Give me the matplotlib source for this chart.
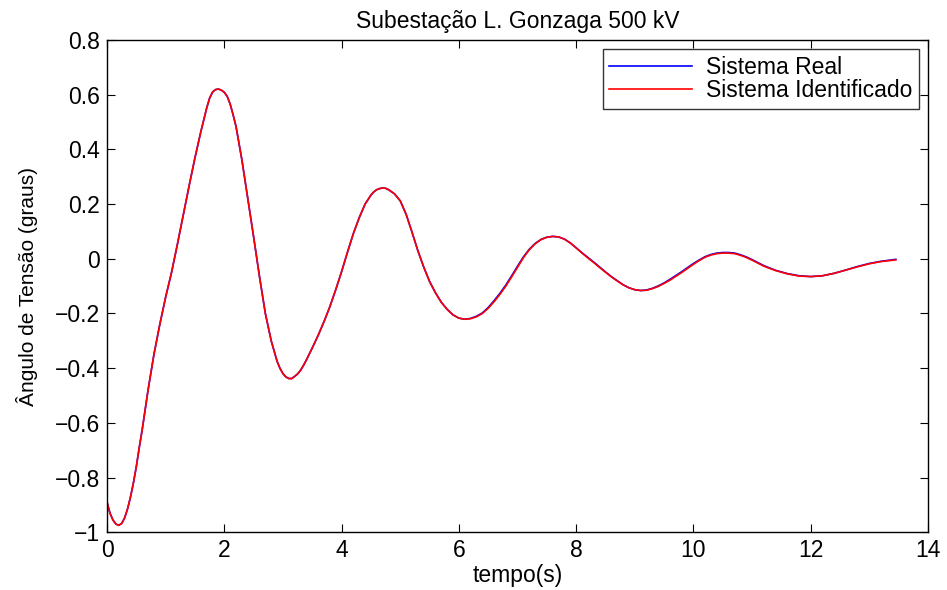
import matplotlib
matplotlib.use("Agg")
import matplotlib.pyplot as plt

plt.rcParams["font.family"] = ["Liberation Sans", "DejaVu Sans"]

# ── Data ──────────────────────────────────────────────────────────────────────
tempo = [
    0.0, 0.05, 0.1, 0.15, 0.2, 0.25, 0.3, 0.35, 0.4, 0.45,
    0.5, 0.55, 0.6, 0.7, 0.8, 0.9, 1.0, 1.1, 1.2, 1.3,
    1.4, 1.5, 1.6, 1.7, 1.75, 1.8, 1.85, 1.9, 1.95, 2.0,
    2.05, 2.1, 2.15, 2.2, 2.3, 2.4, 2.5, 2.6, 2.7, 2.8,
    2.9, 2.95, 3.0, 3.05, 3.1, 3.15, 3.2, 3.25, 3.3, 3.35,
    3.4, 3.5, 3.6, 3.7, 3.8, 3.9, 4.0, 4.1, 4.2, 4.3,
    4.4, 4.5, 4.55, 4.6, 4.65, 4.7, 4.75, 4.8, 4.9, 5.0,
    5.1, 5.2, 5.3, 5.4, 5.5, 5.6, 5.7, 5.8, 5.9, 6.0,
    6.1, 6.2, 6.3, 6.4, 6.5, 6.6, 6.7, 6.8, 6.9, 7.0,
    7.1, 7.2, 7.3, 7.4, 7.5, 7.6, 7.7, 7.8, 7.9, 8.0,
    8.1, 8.2, 8.3, 8.4, 8.5, 8.6, 8.7, 8.8, 8.9, 9.0,
    9.1, 9.2, 9.3, 9.4, 9.5, 9.6, 9.7, 9.8, 9.9, 10.0,
    10.1, 10.2, 10.3, 10.4, 10.5, 10.6, 10.7, 10.8, 10.9, 11.0,
    11.2, 11.4, 11.6, 11.8, 12.0, 12.2, 12.4, 12.6, 12.8, 13.0,
    13.2, 13.45,
]

sistema_real = [
    -0.890, -0.930, -0.955, -0.970, -0.975, -0.968, -0.948, -0.915, -0.872, -0.820,
    -0.760, -0.690, -0.625, -0.480, -0.350, -0.240, -0.140, -0.050, 0.053, 0.160,
    0.267, 0.370, 0.465, 0.552, 0.588, 0.610, 0.619, 0.621, 0.617, 0.609,
    0.594, 0.566, 0.527, 0.484, 0.362, 0.222, 0.080, -0.065, -0.200, -0.300,
    -0.375, -0.401, -0.420, -0.432, -0.438, -0.438, -0.430, -0.421, -0.408, -0.390,
    -0.370, -0.326, -0.280, -0.230, -0.175, -0.113, -0.047, 0.024, 0.092, 0.150,
    0.200, 0.233, 0.245, 0.253, 0.257, 0.259, 0.258, 0.253, 0.238, 0.212,
    0.163, 0.098, 0.030, -0.030, -0.083, -0.124, -0.159, -0.185, -0.205, -0.217,
    -0.221, -0.218, -0.210, -0.198, -0.178, -0.153, -0.126, -0.096, -0.062, -0.027,
    0.007, 0.035, 0.056, 0.071, 0.079, 0.082, 0.080, 0.072, 0.058, 0.040,
    0.022, 0.005, -0.012, -0.030, -0.048, -0.065, -0.080, -0.095, -0.106, -0.113,
    -0.116, -0.114, -0.108, -0.099, -0.088, -0.075, -0.061, -0.047, -0.032, -0.017,
    -0.004, 0.008, 0.016, 0.021, 0.023, 0.023, 0.021, 0.015, 0.007, -0.003,
    -0.025, -0.042, -0.054, -0.062, -0.065, -0.062, -0.053, -0.041, -0.028, -0.017,
    -0.009, -0.002,
]

sistema_identificado = [
    -0.890, -0.930, -0.955, -0.970, -0.975, -0.968, -0.948, -0.915, -0.872, -0.820,
    -0.760, -0.690, -0.625, -0.480, -0.350, -0.240, -0.140, -0.050, 0.053, 0.160,
    0.267, 0.370, 0.465, 0.552, 0.588, 0.610, 0.619, 0.621, 0.617, 0.609,
    0.594, 0.566, 0.527, 0.484, 0.362, 0.222, 0.080, -0.065, -0.200, -0.300,
    -0.375, -0.401, -0.420, -0.432, -0.438, -0.438, -0.430, -0.421, -0.408, -0.390,
    -0.370, -0.326, -0.280, -0.230, -0.175, -0.113, -0.047, 0.024, 0.092, 0.150,
    0.200, 0.233, 0.245, 0.253, 0.257, 0.259, 0.258, 0.253, 0.238, 0.212,
    0.163, 0.098, 0.030, -0.030, -0.083, -0.124, -0.159, -0.185, -0.205, -0.217,
    -0.221, -0.219, -0.212, -0.200, -0.181, -0.157, -0.130, -0.100, -0.066, -0.031,
    0.004, 0.033, 0.055, 0.070, 0.079, 0.082, 0.080, 0.072, 0.058, 0.040,
    0.021, 0.003, -0.014, -0.032, -0.049, -0.066, -0.081, -0.095, -0.106, -0.113,
    -0.116, -0.115, -0.109, -0.101, -0.090, -0.078, -0.064, -0.050, -0.035, -0.020,
    -0.006, 0.006, 0.014, 0.019, 0.021, 0.021, 0.019, 0.013, 0.005, -0.005,
    -0.027, -0.043, -0.055, -0.063, -0.065, -0.062, -0.053, -0.041, -0.029, -0.018,
    -0.010, -0.004,
]

x_ticks = [0, 2, 4, 6, 8, 10, 12, 14]
y_ticks = [-1.0, -0.8, -0.6, -0.4, -0.2, 0.0, 0.2, 0.4, 0.6, 0.8]
y_tick_labels = ["\u22121", "\u22120.8", "\u22120.6", "\u22120.4", "\u22120.2",
                 "0", "0.2", "0.4", "0.6", "0.8"]

# ── Figure ────────────────────────────────────────────────────────────────────
fig = plt.figure(figsize=(9.47, 5.90), dpi=100)
ax = fig.add_axes([0.113, 0.098, 0.867, 0.834])

ax.plot(tempo, sistema_real, color="#0000ff", linewidth=1.2, label="Sistema Real")
ax.plot(tempo, sistema_identificado, color="#ff0000", linewidth=1.2,
        label="Sistema Identificado")

ax.set_xlim(0, 14)
ax.set_ylim(-1, 0.8)
ax.set_xticks(x_ticks)
ax.set_xticklabels([str(v) for v in x_ticks])
ax.set_yticks(y_ticks)
ax.set_yticklabels(y_tick_labels)
ax.tick_params(direction="in", length=6, width=0.8, labelsize=16.5,
               top=True, right=True, pad=5)
for spine in ax.spines.values():
    spine.set_linewidth(1.0)

ax.set_title("Subestação L. Gonzaga 500 kV", fontsize=16.5, pad=9)
ax.set_xlabel("tempo(s)", fontsize=16.5, va="center")
ax.xaxis.set_label_coords(0.5, -0.088)
ax.set_ylabel("Ângulo de Tensão (graus)", fontsize=15, va="center")
ax.yaxis.set_label_coords(-0.097, 0.5)

leg = ax.legend(loc="upper right", fontsize=16.5, frameon=True, fancybox=False,
                edgecolor="black", handlelength=3.6, borderaxespad=0.4,
                borderpad=0.3, labelspacing=0.0, handletextpad=0.6)
leg.get_frame().set_linewidth(1.0)

fig.savefig("out.png", dpi=100, facecolor="white")
